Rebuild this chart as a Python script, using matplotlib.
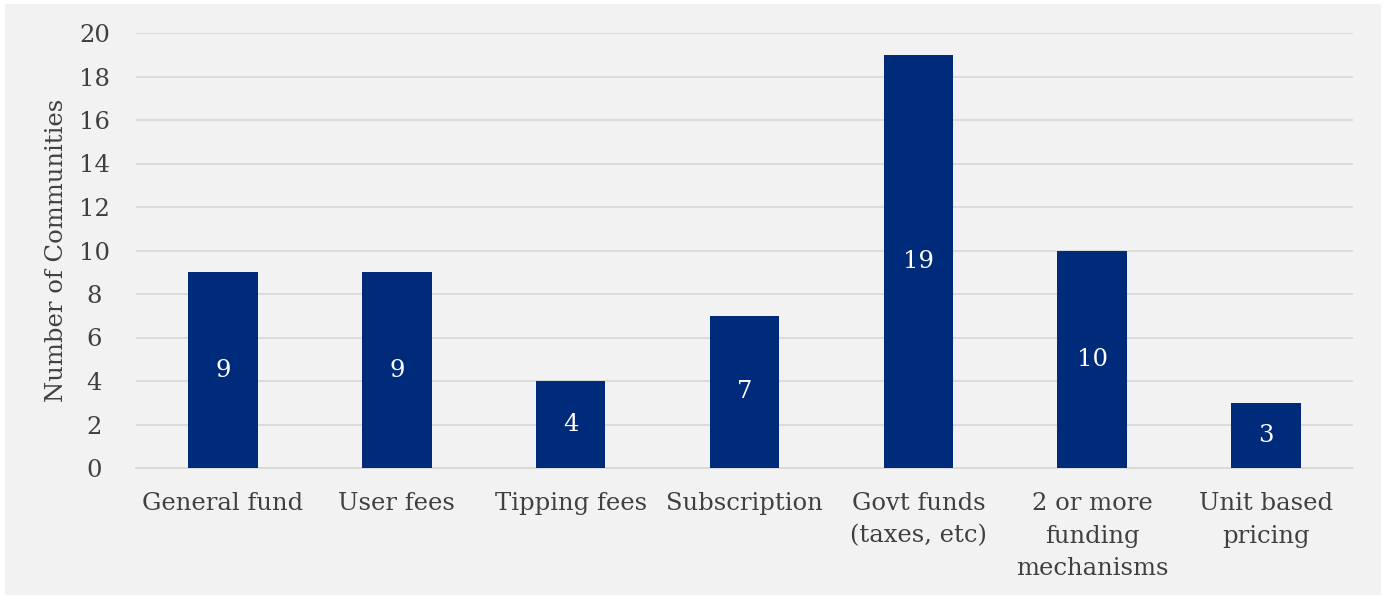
import matplotlib
matplotlib.use("Agg")
import matplotlib.pyplot as plt
from matplotlib.patches import Rectangle

categories = ["General fund", "User fees", "Tipping fees", "Subscription",
              "Govt funds\n(taxes, etc)", "2 or more\nfunding\nmechanisms",
              "Unit based\npricing"]
counts = [9, 9, 4, 7, 19, 10, 3]
yticks = [0, 2, 4, 6, 8, 10, 12, 14, 16, 18, 20]

bar_color = "#002A7A"
text_color = "#404040"
panel_color = "#F2F2F2"
grid_color = "#D9D9D9"

plt.rcParams["font.family"] = ["DejaVu Serif"]
fs = 17.5

W, H = 1387, 596
fig = plt.figure(figsize=(W / 100, H / 100), dpi=100)
fig.patch.set_facecolor("white")
fig.patches.append(Rectangle((5 / W, 1 - 595 / H), (1381 - 5) / W, (595 - 4) / H,
                             transform=fig.transFigure, facecolor=panel_color,
                             edgecolor="none", zorder=-10))

ax = fig.add_axes([136 / W, 1 - 468 / H, (1353 - 136) / W, (468 - 33) / H])
ax.patch.set_alpha(0)

x = list(range(len(categories)))
bars = ax.bar(x, counts, width=0.4, color=bar_color, zorder=3)
for xi, v in zip(x, counts):
    ax.text(xi, v / 2, str(v), ha="center", va="center", color="white",
            fontsize=fs, zorder=4)

ax.set_xlim(-0.5, len(categories) - 0.5)
ax.set_ylim(0, 20)
ax.set_yticks(yticks)
ax.set_yticklabels([str(t) for t in yticks])
ax.set_xticks(x)
ax.set_xticklabels(categories, linespacing=1.55)
ax.yaxis.grid(True, color=grid_color, linewidth=1.3, zorder=0)
ax.set_axisbelow(True)
for s in ["top", "right", "left"]:
    ax.spines[s].set_visible(False)
ax.spines["bottom"].set_color(grid_color)
ax.spines["bottom"].set_linewidth(1.3)
ax.tick_params(axis="both", length=0, colors=text_color, labelsize=fs)
ax.tick_params(axis="y", pad=30)
ax.tick_params(axis="x", pad=17)
for lbl in ax.get_yticklabels():
    lbl.set_horizontalalignment("center")
ax.set_ylabel("Number of Communities", color=text_color, fontsize=fs, labelpad=8)

fig.savefig("out.png", dpi=100, facecolor="white")
